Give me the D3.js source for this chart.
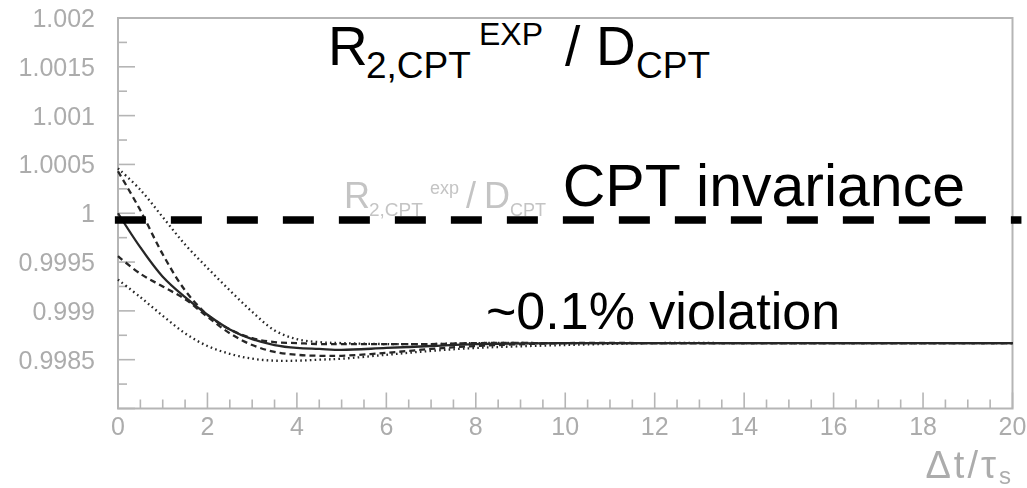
<!DOCTYPE html>
<html>
<head>
<meta charset="utf-8">
<script src="https://cdn.jsdelivr.net/npm/d3@7"></script>
<style>
	html, body { margin: 0; padding: 0; background: #fff; }
	svg { display: block; font-family: "Liberation Sans", Arial, sans-serif; }
</style>
</head>
<body>
<svg id="chart" width="1027" height="488"></svg>
<script>
(function() {
	'use strict';

	// time in units of tau_S
	const tGrid = [0, 0.5, 1, 1.5, 2, 2.5, 3, 3.5, 4, 4.5, 5, 6, 7, 8, 10, 12, 14, 16, 18, 20];

	const solidRatio  = [1.00000, 0.99965, 0.99935, 0.99914, 0.99896, 0.99881, 0.99871, 0.99865, 0.99862, 0.99861, 0.99860, 0.99862, 0.99864, 0.99866, 0.99867, 0.99867, 0.99867, 0.99867, 0.99867, 0.99867];
	const dashedHigh  = [1.00043, 1.00003, 0.99958, 0.99921, 0.99896, 0.99881, 0.99872, 0.99868, 0.99867, 0.99866, 0.99866, 0.99866, 0.99866, 0.99867, 0.99867, 0.99867, 0.99867, 0.99867, 0.99867, 0.99867];
	const dashedLow   = [0.99956, 0.99938, 0.99925, 0.99912, 0.99894, 0.99877, 0.99865, 0.99858, 0.99855, 0.99854, 0.99854, 0.99857, 0.99861, 0.99864, 0.99867, 0.99867, 0.99867, 0.99867, 0.99867, 0.99867];
	const dottedHigh  = [1.00046, 1.00024, 0.99996, 0.99968, 0.99944, 0.99921, 0.99899, 0.99880, 0.99871, 0.99868, 0.99867, 0.99866, 0.99866, 0.99867, 0.99867, 0.99867, 0.99867, 0.99867, 0.99867, 0.99867];
	const dottedLow   = [0.99932, 0.99914, 0.99895, 0.99877, 0.99864, 0.99856, 0.99851, 0.99849, 0.99849, 0.99850, 0.99851, 0.99855, 0.99859, 0.99862, 0.99865, 0.99867, 0.99867, 0.99867, 0.99867, 0.99867];

	const yTickLabels = ['0.9985', '0.999', '0.9995', '1', '1.0005', '1.001', '1.0015', '1.002'];
	const xTickLabels = ['0', '2', '4', '6', '8', '10', '12', '14', '16', '18', '20'];

	// hand drawn "CPT invariance" line, slightly under 1
	const cptLevel = 0.99993;
	const cptSpan = [-0.07, 20.2];

	const svg = d3.select('#chart');
	const x = d3.scaleLinear().domain([0, 20]).range([118, 1012.5]);
	const y = d3.scaleLinear().domain([0.998, 1.002]).range([408.5, 18]);

	const grey = '#acacac';

	svg.append('defs').append('filter')
		.attr('id', 'soft')
		.append('feGaussianBlur')
		.attr('stdDeviation', 0.6);

	const plot = svg.append('g').attr('filter', 'url(#soft)');

	// frame
	plot.append('rect')
		.attr('x', x(0)).attr('y', y(1.002))
		.attr('width', x(20) - x(0)).attr('height', y(0.998) - y(1.002))
		.attr('fill', 'none').attr('stroke', '#b5b5b5').attr('stroke-width', 2);

	// y ticks, inward
	const yMinor = d3.range(0, 17).map(function(i) { return 0.998 + i * 0.00025; });
	plot.selectAll('.ytick')
		.data(yMinor)
		.enter().append('line')
		.attr('x1', x(0))
		.attr('x2', function(d, i) { return x(0) + (i % 2 === 0 ? 17 : 9); })
		.attr('y1', function(d) { return y(d); })
		.attr('y2', function(d) { return y(d); })
		.attr('stroke', '#b5b5b5').attr('stroke-width', 1.6);

	plot.selectAll('.ylab')
		.data(yTickLabels)
		.enter().append('text')
		.attr('x', 95)
		.attr('y', function(d) { return y(+d) + 9; })
		.attr('text-anchor', 'end')
		.attr('font-size', 25)
		.attr('fill', grey)
		.text(function(d) { return d; });

	// x ticks, inward
	const xMinor = d3.range(0, 41).map(function(i) { return i * 0.5; });
	plot.selectAll('.xtick')
		.data(xMinor)
		.enter().append('line')
		.attr('x1', function(d) { return x(d); })
		.attr('x2', function(d) { return x(d); })
		.attr('y1', y(0.998))
		.attr('y2', function(d, i) { return y(0.998) - (i % 4 === 0 ? 16 : 9); })
		.attr('stroke', '#b5b5b5').attr('stroke-width', 1.6);

	plot.selectAll('.xlab')
		.data(xTickLabels)
		.enter().append('text')
		.attr('x', function(d) { return x(+d); })
		.attr('y', 435)
		.attr('text-anchor', 'middle')
		.attr('font-size', 25)
		.attr('fill', grey)
		.text(function(d) { return d; });

	// axis title
	const xt = plot.append('text')
		.attr('x', 1014).attr('y', 478)
		.attr('text-anchor', 'end')
		.attr('font-size', 38)
		.attr('letter-spacing', 3)
		.attr('fill', grey);
	xt.append('tspan').text('Δt/τ');
	xt.append('tspan').attr('dy', 6).attr('font-size', 24).text('s');

	// faint ROOT title inside the frame
	const faint = '#c4c4c4';
	const inner = [
		{ s: 'R', x: 344, y: 208, size: 36 },
		{ s: '2,CPT', x: 369, y: 216, size: 19 },
		{ s: 'exp', x: 430, y: 194, size: 18 },
		{ s: '/', x: 466, y: 208, size: 36 },
		{ s: 'D', x: 484, y: 208, size: 36 },
		{ s: 'CPT', x: 510, y: 216, size: 18 }
	];
	plot.selectAll('.inner')
		.data(inner)
		.enter().append('text')
		.attr('x', function(d) { return d.x; })
		.attr('y', function(d) { return d.y; })
		.attr('font-size', function(d) { return d.size; })
		.attr('fill', faint)
		.text(function(d) { return d.s; });

	// curves
	const line = d3.line()
		.x(function(d) { return x(d[0]); })
		.y(function(d) { return y(d[1]); })
		.curve(d3.curveCatmullRom.alpha(0.5));

	const series = [
		{ v: dottedHigh, dash: '1.6,3.2' },
		{ v: dottedLow, dash: '1.6,3.2' },
		{ v: dashedHigh, dash: '6,4' },
		{ v: dashedLow, dash: '6,4' },
		{ v: solidRatio, dash: null }
	];

	plot.selectAll('.curve')
		.data(series)
		.enter().append('path')
		.attr('d', function(d) { return line(tGrid.map(function(t, i) { return [t, d.v[i]]; })); })
		.attr('fill', 'none')
		.attr('stroke', '#262626')
		.attr('stroke-width', 2.3)
		.attr('stroke-dasharray', function(d) { return d.dash; });

	// annotations
	svg.append('line')
		.attr('x1', x(cptSpan[0])).attr('x2', x(cptSpan[1]))
		.attr('y1', y(cptLevel)).attr('y2', y(cptLevel))
		.attr('stroke', '#000').attr('stroke-width', 7.5)
		.attr('stroke-dasharray', '31,25');

	const title = [
		{ s: 'R', x: 328, y: 65, size: 55 },
		{ s: '2,CPT', x: 366, y: 78, size: 37 },
		{ s: 'EXP', x: 479, y: 45, size: 32 },
		{ s: '/', x: 565, y: 65, size: 55 },
		{ s: 'D', x: 596, y: 65, size: 55 },
		{ s: 'CPT', x: 636, y: 78, size: 37 }
	];
	svg.selectAll('.title')
		.data(title)
		.enter().append('text')
		.attr('x', function(d) { return d.x; })
		.attr('y', function(d) { return d.y; })
		.attr('font-size', function(d) { return d.size; })
		.attr('fill', '#000')
		.text(function(d) { return d.s; });

	svg.append('text')
		.attr('x', 965).attr('y', 206)
		.attr('text-anchor', 'end')
		.attr('font-size', 59)
		.text('CPT invariance');

	svg.append('text')
		.attr('x', 486).attr('y', 329)
		.attr('font-size', 52)
		.text('~0.1% violation');
})();
</script>
</body>
</html>
